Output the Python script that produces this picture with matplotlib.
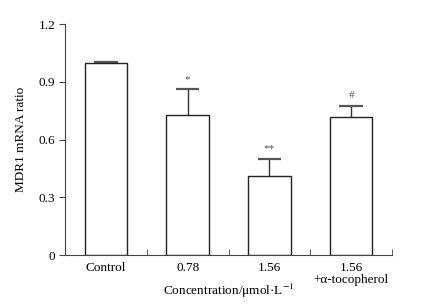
import numpy as np
import matplotlib
matplotlib.use("Agg")
import matplotlib.pyplot as plt

plt.rcParams['font.family'] = ['Liberation Serif', 'DejaVu Serif']
plt.rcParams['mathtext.fontset'] = 'stix'

categories = ["Control", "0.78", "1.56", "1.56\n+\u03b1-tocopherol"]
ratio = [1.0, 0.73, 0.41, 0.715]
err = [0.005, 0.13, 0.09, 0.06]
marks = ["", "*", "**", "#"]
yticks = [0, 0.3, 0.6, 0.9, 1.2]
ytick_labels = ["0", "0.3", "0.6", "0.9", "1.2"]

fig = plt.figure(figsize=(4.22, 3.04), dpi=100)
ax = fig.add_axes([0.154, 0.161, 0.775, 0.76])

x = np.arange(len(categories))
top = np.array(ratio) + np.array(err)
ax.bar(x, ratio, width=0.52, color="white", edgecolor="#222222", linewidth=1.0, zorder=2)
# upper error bars only
ax.vlines(x, ratio, top, color="#333333", linewidth=1.0, zorder=1)
ax.hlines(top, x - 0.145, x + 0.145, color="#555555", linewidth=1.6, zorder=1)

for xi, t, m in zip(x, top, marks):
    if m:
        ax.text(xi, t + 0.03, m, ha="center", va="bottom", fontsize=8, color="#555555")

ax.set_xlim(-0.5, len(categories) - 0.5)
ax.set_ylim(0, 1.2)
ax.set_yticks(yticks)
ax.set_yticklabels(ytick_labels, fontsize=9.5)
ax.set_xticks(x)
ax.set_xticklabels(categories, fontsize=9.5, linespacing=1.0)
ax.tick_params(axis="x", length=0, pad=5)
ax.set_xticks(np.arange(0.5, len(categories), 1.0), minor=True)
ax.tick_params(axis="x", which="minor", direction="in", length=4, color="#444444")
ax.tick_params(axis="y", direction="out", length=4, color="#444444", pad=3)

ax.spines["top"].set_visible(False)
ax.spines["right"].set_visible(False)
ax.spines["left"].set_color("#444444")
ax.spines["bottom"].set_color("#444444")

ax.set_ylabel("MDR1 mRNA ratio", fontsize=9.5, labelpad=8)
ax.set_xlabel("Concentration/\u03bcmol\u00b7L$^{-1}$", fontsize=9.5)
ax.xaxis.set_label_coords(0.5, -0.115)

fig.savefig("out.png", dpi=100)
